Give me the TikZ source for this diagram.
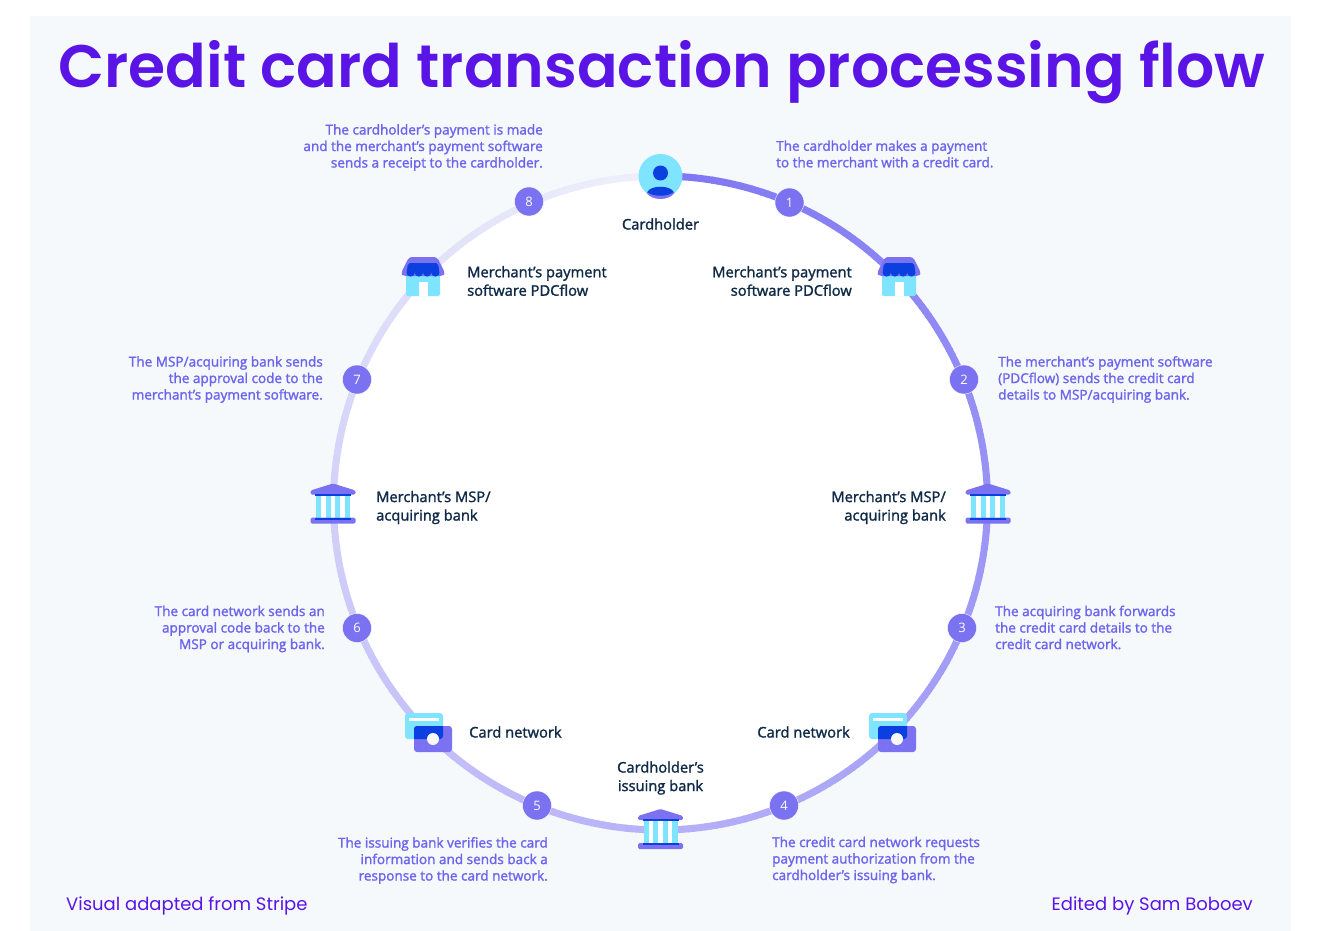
\documentclass[tikz,border=0pt]{standalone}
\usepackage{fontspec}
\usepackage{xcolor}
\setmainfont{Open Sans}
\newfontfamily\titlefont{Poppins SemiBold}
\newfontfamily\footfont{Poppins}
\newfontfamily\labelfont[FakeBold=1.6]{Open Sans}
\usetikzlibrary{positioning,calc}
\definecolor{panelbg}{HTML}{F5F9FC}
\definecolor{titleviolet}{HTML}{5A14E6}
\definecolor{stepviolet}{HTML}{7A72F0}
\definecolor{notetext}{HTML}{6C63EE}
\definecolor{ringstart}{HTML}{7F77F3}
\definecolor{ringmid}{HTML}{B7B1F8}
\definecolor{ringend}{HTML}{F0F1FB}
\definecolor{navy}{HTML}{0F2A47}
\definecolor{iconsky}{HTML}{7FE4FF}
\definecolor{iconblue}{HTML}{0B3FE0}
\begin{document}
\begin{tikzpicture}[
    x=1pt, y=-1pt,
    stepdot/.style={circle, fill=stepviolet, draw=white, line width=0.4pt, minimum size=29pt, inner sep=0pt, text=white, font=\fontsize{13}{13}\selectfont},
    stepnote/.style={text=notetext, inner sep=0pt, font=\labelfont\fontsize{13.55}{16.5}\selectfont},
    partyname/.style={text=navy, inner sep=0pt, font=\labelfont\fontsize{14.7}{18.5}\selectfont},
    footnote/.style={text=titleviolet, inner sep=0pt, anchor=base, font=\footfont\fontsize{18}{18}\selectfont},
    usericon/.pic={
        \fill[iconsky] (0,0) circle (22pt);
        \fill[stepviolet] (-14,17) .. controls (-10,9) and (10,9) .. (14,17) .. controls (8,25) and (-8,25) .. (-14,17);
        \fill[iconblue] (-13,16) .. controls (-10,9) and (10,9) .. (13,16) .. controls (8,21) and (-8,21) .. (-13,16);
        \fill[iconblue] (0,-3) circle (7.5pt);
    },
    shopicon/.pic={
        \fill[iconsky, rounded corners=2pt] (-17,-5) rectangle (17,19);
        \fill[white] (-4.5,5) rectangle (4.5,19);
        \fill[stepviolet, rounded corners=3pt] (-22,-4) -- (-14,-20) -- (14,-20) -- (22,-4) -- (20,-1) -- (-20,-1) -- cycle;
        \fill[iconblue, rounded corners=2pt] (-16.5,-4) -- (-15,-14) -- (15,-14) -- (16.5,-4) -- cycle;
        \foreach \cx in {-12.4,-4.1,4.1,12.4} {\fill[iconblue] (\cx,-4.5) circle (4.1pt);}
    },
    bankicon/.pic={
        \fill[iconsky] (-17,-8) rectangle (17,14);
        \foreach \cx in {-9.5,0,9.5} {\fill[white] (\cx-2.2,-8) rectangle (\cx+2.2,14);}
        \fill[stepviolet, rounded corners=1.5pt] (-22.5,-9) -- (-22.5,-13) -- (0,-20) -- (22.5,-13) -- (22.5,-9) -- cycle;
        \fill[iconblue] (-18,-10) rectangle (18,-8);
        \fill[stepviolet, rounded corners=1.5pt] (-22.5,14) rectangle (22.5,20);
        \fill[iconblue] (-18,14) rectangle (18,16);
    },
    cardicon/.pic={
        \fill[iconsky, rounded corners=3pt] (-28,-13) rectangle (10,13);
        \fill[white] (-24,-8) rectangle (6,-5);
        \fill[stepviolet, rounded corners=3pt] (-19,0) rectangle (19,26);
        \begin{scope}
            \clip[rounded corners=3pt] (-28,-13) rectangle (10,13);
            \fill[iconblue, rounded corners=3pt] (-19,0) rectangle (19,26);
        \end{scope}
        \fill[panelbg] (0,13) circle (6pt);
    }
]
\useasboundingbox (0,0) rectangle (1325,931);
\fill[white] (0,0) rectangle (1325,931);
\fill[panelbg] (30,16) rectangle (1291,931);

\coordinate (hub) at (660.5,503);
\fill[white] (hub) circle (327pt);

% ring, lighter going clockwise
\foreach \a in {0,...,359} {
    \ifnum\a<180
        \pgfmathtruncatemacro{\fadeA}{\a/1.8}
        \colorlet{ringnow}{ringmid!\fadeA!ringstart}
    \else
        \pgfmathtruncatemacro{\fadeA}{(\a-180)/1.8}
        \colorlet{ringnow}{ringend!\fadeA!ringmid}
    \fi
    \draw[ringnow, line width=7pt] ($(hub)+(\a-90:327)$) -- ($(hub)+(\a-88.8:327)$);
}

\pic at (660.5,176) {usericon};
\pic at (899,277) {shopicon};
\pic at (423,277) {shopicon};
\pic at (988,503.5) {bankicon};
\pic at (333,503.5) {bankicon};
\pic at (660.5,829) {bankicon};
\pic at (897,726) {cardicon};
\pic at (433,726) {cardicon};

\node[stepdot] (s1) at (789.5,202.5) {1};
\node[stepdot] (s2) at (964,379.5) {2};
\node[stepdot] (s3) at (962,628) {3};
\node[stepdot] (s4) at (784,805.5) {4};
\node[stepdot] (s5) at (537,805.5) {5};
\node[stepdot] (s6) at (357,628) {6};
\node[stepdot] (s7) at (357,379.5) {7};
\node[stepdot] (s8) at (529,201.5) {8};

\node[stepnote, align=left, anchor=west] (n1) at (776,154) {The cardholder makes a payment\\to the merchant with a credit card.};
\node[stepnote, align=left, anchor=west] (n2) at (998,379.5) {The merchant’s payment software\\(PDCflow) sends the credit card\\details to MSP/acquiring bank.};
\node[stepnote, align=left, anchor=west] (n3) at (995,627.5) {The acquiring bank forwards\\the credit card details to the\\credit card network.};
\node[stepnote, align=left, anchor=west] (n4) at (772,860) {The credit card network requests\\payment authorization from the\\cardholder’s issuing bank.};
\node[stepnote, align=right, anchor=east] (n5) at (548,860.5) {The issuing bank verifies the card\\information and sends back a\\response to the card network.};
\node[stepnote, align=right, anchor=east] (n6) at (325,629) {The card network sends an\\approval code back to the\\MSP or acquiring bank.};
\node[stepnote, align=right, anchor=east] (n7) at (323,379.5) {The MSP/acquiring bank sends\\the approval code to the\\merchant’s payment software.};
\node[stepnote, align=right, anchor=east] (n8) at (543,147.5) {The cardholder’s payment is made\\and the merchant’s payment software\\sends a receipt to the cardholder.};

\node[partyname] (holder) at (660.5,224) {Cardholder};
\node[partyname, align=right, anchor=east] (softR) at (852,281) {Merchant’s payment\\software PDCflow};
\node[partyname, align=left, anchor=west] (softL) at (467,281) {Merchant’s payment\\software PDCflow};
\node[partyname, align=right, anchor=east] (acqR) at (946,507.5) {Merchant’s MSP/\\acquiring bank};
\node[partyname, align=left, anchor=west] (acqL) at (376,507.5) {Merchant’s MSP/\\acquiring bank};
\node[partyname, anchor=east] (netR) at (850,732) {Card network};
\node[partyname, anchor=west] (netL) at (469,732) {Card network};
\node[partyname, align=center] (issuer) at (660.5,778) {Cardholder’s\\issuing bank};

\node[anchor=base, inner sep=0pt, text=titleviolet, font=\titlefont\fontsize{60}{60}\selectfont] (heading) at (662,88) {Credit card transaction processing flow};
\node[footnote, anchor=base west] (credit) at (66,910) {Visual adapted from Stripe};
\node[footnote, anchor=base east] (editor) at (1253,910) {Edited by Sam Boboev};
\end{tikzpicture}
\end{document}
